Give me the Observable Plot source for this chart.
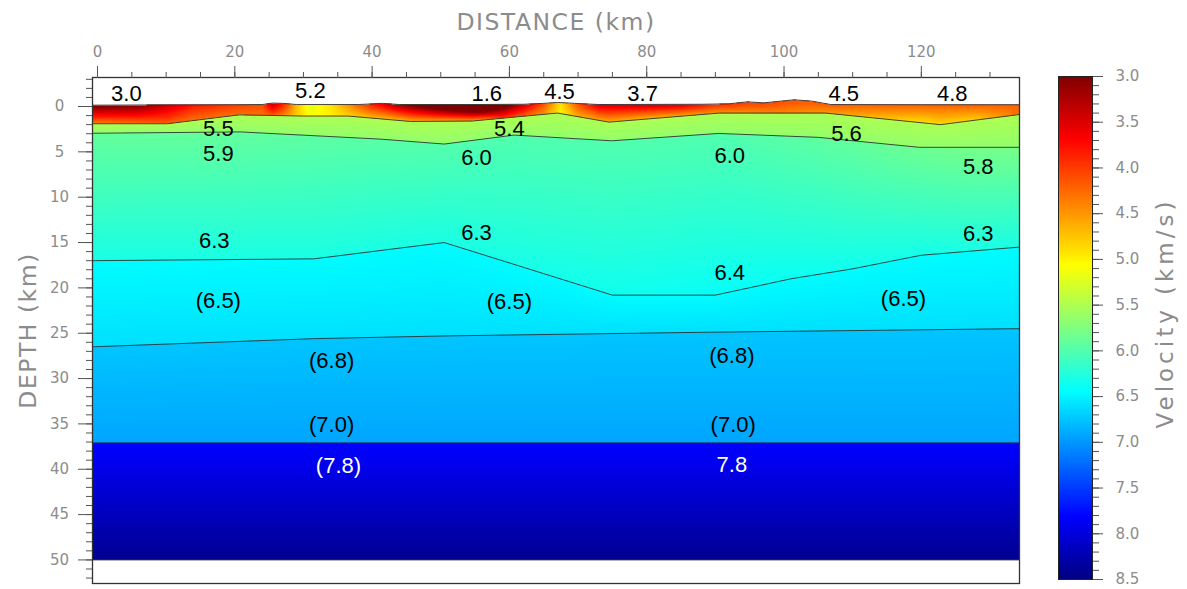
<!DOCTYPE html>
<html><head><meta charset="utf-8">
<script src="https://cdn.jsdelivr.net/npm/d3@7"></script>
<script src="https://cdn.jsdelivr.net/npm/@observablehq/plot@0.6"></script>
<style>
body{margin:0;background:#fff;}
#wrap{position:relative;width:1187px;height:589px;overflow:hidden;background:#fff;}
#main,#bar{position:absolute;top:0;}
#main{left:0;} #bar{left:1040px;}
</style></head><body><div id="wrap"><div id="main"></div><div id="bar"></div></div>
<script>
// ---- tick labels ----
const xTicks = [0, 20, 40, 60, 80, 100, 120];
const yTicks = [0, 5, 10, 15, 20, 25, 30, 35, 40, 45, 50];
const velTicks = [3.0, 3.5, 4.0, 4.5, 5.0, 5.5, 6.0, 6.5, 7.0, 7.5, 8.0, 8.5];

// ---- interfaces (distance km, depth km) ----
const surfX = [-0.73, 10, 20, 24, 25.5, 27, 29, 38, 41.5, 44, 55, 62, 65, 67, 69.5, 73, 88, 92, 94.7, 97, 99, 101.5, 104, 106.8, 120, 134.3];
const surfD = [-0.15, -0.18, -0.2, -0.22, -0.38, -0.35, -0.22, -0.22, -0.35, -0.22, -0.22, -0.25, -0.35, -0.45, -0.35, -0.22, -0.25, -0.3, -0.52, -0.4, -0.55, -0.74, -0.6, -0.22, -0.2, -0.2];
const int2X = [-0.73, 10.2, 20.6, 30, 36.5, 45.6, 54.6, 67, 74.5, 90.6, 106, 122.8, 134.3];
const int2D = [1.9, 1.9, 0.92, 1.05, 1.05, 1.65, 1.6, 0.72, 1.72, 0.72, 0.72, 2.0, 0.88];
const int3X = [-0.73, 20.8, 41.3, 50.5, 60.7, 74.9, 90.5, 105, 119.7, 134.3];
const int3D = [2.95, 2.8, 3.6, 4.14, 3.15, 3.78, 2.97, 3.4, 4.5, 4.5];
const int4X = [-0.73, 31.5, 50.5, 75, 90, 101, 110, 120, 134.3];
const int4D = [17.0, 16.8, 15.0, 20.8, 20.8, 19.0, 17.9, 16.4, 15.5];
const int5X = [-0.73, 31.5, 50.5, 88, 134.3];
const int5D = [26.5, 25.6, 25.3, 24.9, 24.5];
const int6X = [-0.73, 134.3];
const int6D = [37.1, 37.1];
const baseX = [-0.73, 134.3];
const baseD = [50, 50];

// ---- velocities (km/s) ----
const sedX   = [-0.73, 6, 10, 14, 20, 24, 25.5, 27, 29, 31, 34, 37, 40, 43, 48, 52, 56, 59, 62, 65, 67.5, 70, 73, 80, 85, 90, 100, 110, 120, 128, 134.3];
const sedTop = [2.9, 3.0, 3.4, 3.8, 4.0, 4.1, 3.3, 3.8, 4.7, 5.2, 4.9, 4.4, 3.8, 3.3, 2.6, 2.0, 1.6, 2.6, 3.4, 4.1, 4.9, 4.1, 3.5, 3.4, 3.5, 3.9, 4.1, 4.2, 4.2, 4.2, 4.2];
const sedBot = [4.4, 4.3, 4.2, 4.3, 4.3, 4.3, 4.2, 4.4, 4.8, 5.1, 5.0, 4.8, 4.7, 4.7, 4.6, 4.6, 4.5, 4.0, 4.2, 4.5, 5.0, 4.6, 4.6, 4.7, 4.6, 4.5, 4.4, 4.6, 4.9, 4.8, 4.3];
const l3TopX = [-0.73, 17.6, 55.2, 92.1, 128.3, 134.3];
const l3TopV = [5.9, 5.9, 6.0, 6.0, 5.8, 5.8];
const l3BotX = [-0.73, 17, 55.2, 92.1, 128.3, 134.3];
const l3BotV = [6.3, 6.3, 6.3, 6.4, 6.3, 6.3];
const layerTopV = [5.5, null, 6.45, 6.75, 7.8];   // layers 2..6
const layerBotV = [5.65, null, 6.6, 6.92, 8.4];

// ---- in-section labels ----
const labelText = ["3.0","5.2","1.6","4.5","3.7","4.5","4.8","5.5","5.4","5.6","5.9","6.0","6.0","5.8","6.3","6.3","6.3","6.4","(6.5)","(6.5)","(6.5)","(6.8)","(6.8)","(7.0)","(7.0)","(7.8)","7.8"];
const labelX = [4.2, 31.0, 56.7, 67.3, 79.4, 108.7, 124.5, 17.6, 60.0, 109.1, 17.6, 55.2, 92.1, 128.3, 17.0, 55.2, 128.3, 92.1, 17.6, 60.0, 117.4, 34.1, 92.4, 34.1, 92.6, 35.1, 92.4];
const labelY = [-1.43, -1.76, -1.43, -1.65, -1.43, -1.43, -1.43, 2.43, 2.43, 2.98, 5.18, 5.62, 5.4, 6.62, 14.88, 13.89, 14.0, 18.3, 21.39, 21.6, 21.17, 28.1, 27.56, 35.17, 35.17, 39.69, 39.58];
const labelColor = ["#000","#000","#000","#000","#000","#000","#000","#000","#000","#000","#000","#000","#000","#000","#000","#000","#000","#000","#000","#000","#000","#000","#000","#000","#000","#fff","#fff"];

// ---- model helpers ----
const pw = (xs, ys) => d3.scaleLinear().domain(xs).range(ys).clamp(true);
const surf = pw(surfX, surfD), i2 = pw(int2X, int2D), i3 = pw(int3X, int3D),
      i4 = pw(int4X, int4D), i5 = pw(int5X, int5D), i6 = pw(int6X, int6D);
const sT = pw(sedX, sedTop), sB = pw(sedX, sedBot), l3T = pw(l3TopX, l3TopV), l3B = pw(l3BotX, l3BotV);
function velocity(x, d) {
  const s = surf(x);
  if (d < s || d > 50) return NaN;
  const b = [i2(x), i3(x), i4(x), i5(x), i6(x), 50];
  if (d < b[0]) { const t = (d - s) / (b[0] - s); return sT(x) + (sB(x) - sT(x)) * t; }
  for (let k = 0; k < 5; k++) {
    if (d <= b[k + 1] || k === 4) {
      const t = Math.max(0, Math.min(1, (d - b[k]) / (b[k + 1] - b[k])));
      const top = k === 1 ? l3T(x) : layerTopV[k];
      const bot = k === 1 ? l3B(x) : layerBotV[k];
      return top + (bot - top) * t;
    }
  }
  return NaN;
}

const color = {type: "linear", domain: [3.0, 3.6875, 5.0625, 6.4375, 7.8125, 8.5],
  range: ["#800000", "#ff0000", "#ffff00", "#00ffff", "#0000ff", "#000080"], clamp: true, interpolate: "rgb"};

const axisText = "#8c8c8c", tickStroke = "#555";
const iface = (xs, ds) => Plot.line(xs, {x: xs, y: ds, stroke: "#2a2a2a", strokeWidth: 1, strokeOpacity: 0.85});

const main = Plot.plot({
  width: 1040, height: 589,
  marginLeft: 92, marginRight: 21, marginTop: 77, marginBottom: 6,
  style: {fontFamily: "DejaVu Sans", fontSize: "15px", background: "transparent"},
  x: {domain: [-0.73, 134.3]},
  y: {domain: [-3.2, 52.6], reverse: true},
  color,
  marks: [
    Plot.raster({fill: velocity, x1: -0.73, x2: 134.3, y1: -1, y2: 50}),
    iface(surfX, surfD), iface(int2X, int2D), iface(int3X, int3D), iface(int4X, int4D),
    iface(int5X, int5D), iface(int6X, int6D), iface(baseX, baseD),
    Plot.text(labelText, {x: labelX, y: labelY, text: labelText, fill: labelColor, fontSize: 22, fontFamily: "Liberation Sans, Arial, sans-serif"}),
    Plot.frame({stroke: "#333", strokeWidth: 1.3}),
    Plot.axisX(xTicks, {anchor: "top", tickSize: 12, tickPadding: 9, fill: axisText, stroke: tickStroke, label: null}),
    Plot.axisX(d3.range(0, 135, 5), {anchor: "top", tickSize: 6, text: null, stroke: tickStroke, label: null}),
    Plot.axisY(yTicks, {anchor: "left", tickSize: 14, tickPadding: 19, textAnchor: "middle", fill: axisText, stroke: tickStroke, label: null}),
    Plot.axisY(d3.range(-3, 53, 1), {anchor: "left", tickSize: 6, text: null, stroke: tickStroke, label: null}),
    Plot.text(["DISTANCE (km)"], {frameAnchor: "top", dy: -55, textAnchor: "middle", lineAnchor: "middle", fontSize: 23.5, fill: axisText}),
    Plot.text(["DEPTH (km)"], {frameAnchor: "left", dx: -64, rotate: -90, textAnchor: "middle", lineAnchor: "middle", fontSize: 23.5, fill: axisText})
  ]
});
document.getElementById("main").appendChild(main);

const bar = Plot.plot({
  width: 147, height: 589,
  marginLeft: 18, marginRight: 95, marginTop: 76, marginBottom: 10,
  style: {fontFamily: "DejaVu Sans", fontSize: "15px", background: "transparent"},
  x: {domain: [0, 1]},
  y: {domain: [3, 8.5], reverse: true},
  color,
  marks: [
    Plot.raster({fill: (x, y) => y, x1: 0, x2: 1, y1: 3, y2: 8.5}),
    Plot.frame({stroke: "#222", strokeWidth: 1}),
    Plot.axisY(velTicks, {anchor: "right", tickSize: 10, tickPadding: 13, tickFormat: d3.format(".1f"), fill: axisText, stroke: tickStroke, label: null}),
    Plot.axisY(d3.range(30, 86, 1).map(d => d / 10), {anchor: "right", tickSize: 6, text: null, stroke: tickStroke, label: null}),
    Plot.axisX([], {anchor: "bottom", tickSize: 0, label: null}),
    Plot.text(["Velocity (km/s)"], {frameAnchor: "right", dx: 73, dy: -15, rotate: -90, textAnchor: "middle", lineAnchor: "middle", fontSize: 23, fill: axisText})
  ]
});
document.getElementById("bar").appendChild(bar);

// wider letter spacing, like the reference's geometric titling face
d3.selectAll("#wrap svg text").filter(function () { return this.textContent === "DISTANCE (km)" || this.textContent === "DEPTH (km)"; }).attr("letter-spacing", 1.5);
d3.selectAll("#wrap svg text").filter(function () { return this.textContent === "Velocity (km/s)"; }).attr("letter-spacing", 4);
</script></body></html>
